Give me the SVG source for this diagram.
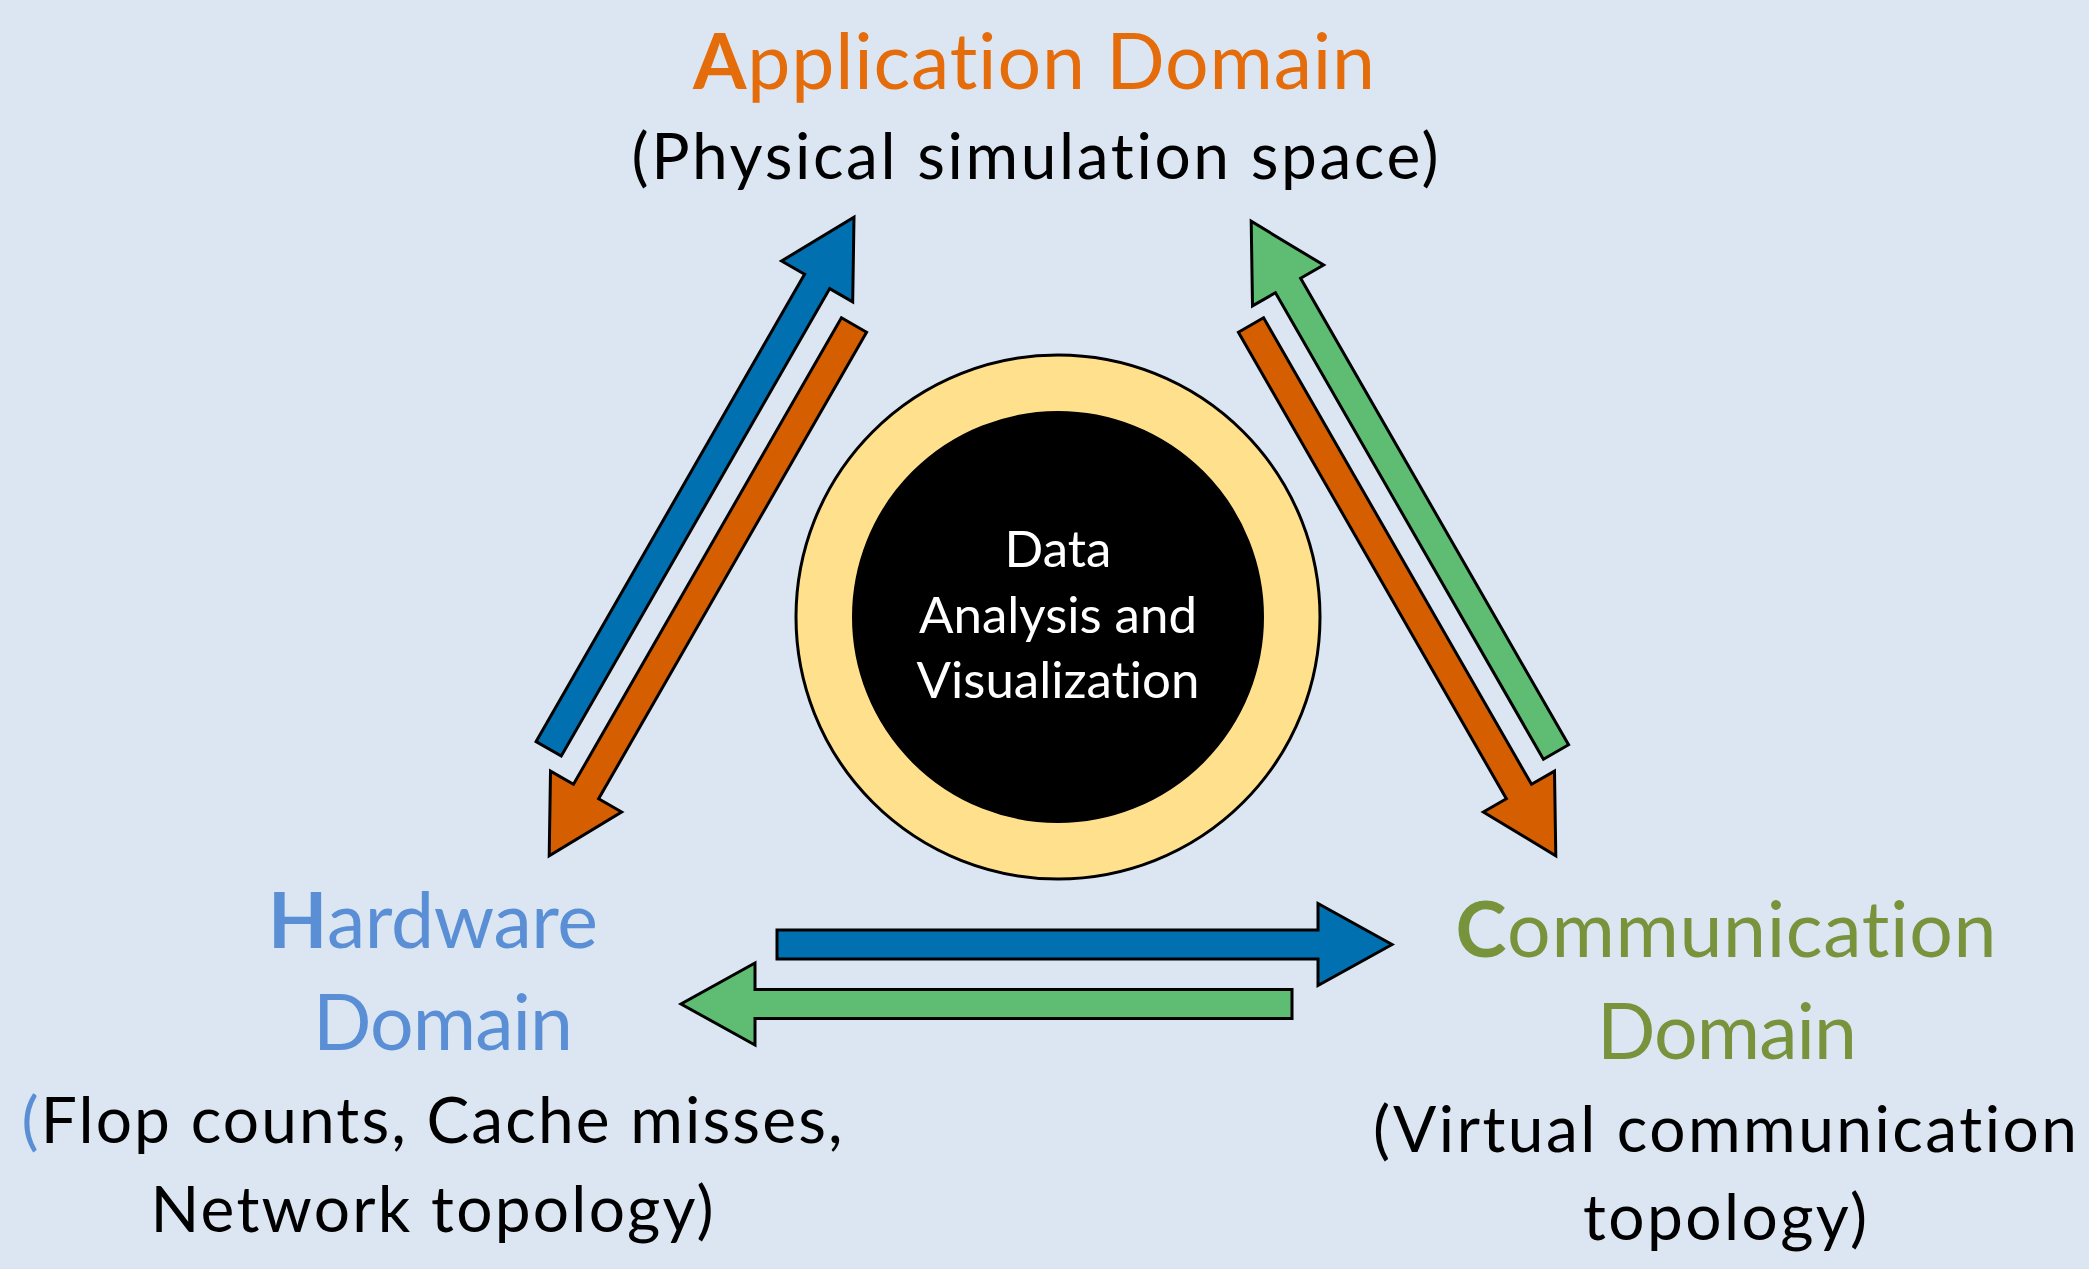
<svg xmlns="http://www.w3.org/2000/svg" width="2089" height="1269" viewBox="0 0 2089 1269">
  <style>
    .arrow { stroke: #000; stroke-width: 3; stroke-linejoin: miter; }
    .blue { fill: #0070B0; }
    .orange { fill: #D55E00; }
    .green { fill: #5EBD72; }
    .lbl { font-family: Lato, "Open Sans", sans-serif; text-anchor: middle; font-variant-ligatures: none; }
    .title { font-size: 77px; }
    .sub { font-size: 64px; fill: #000; }
    .center { font-family: Lato, "Open Sans", sans-serif; text-anchor: middle; font-size: 51px; fill: #fff; font-variant-ligatures: none; }
  </style>
  <rect x="0" y="0" width="2089" height="1269" fill="#DCE6F2"/>

  <g id="connectors">
    <polygon class="arrow blue" transform="translate(548.7,748.8) rotate(-60.13)" points="0,-14.5 539,-14.5 539,-41 613,0 539,41 539,14.5 0,14.5"/>
    <polygon class="arrow orange" transform="translate(854,325) rotate(119.87)" points="0,-14.5 538,-14.5 538,-41 612,0 538,41 538,14.5 0,14.5"/>
    <polygon class="arrow green" transform="translate(1556,752) rotate(-119.87)" points="0,-14.5 538,-14.5 538,-41 612,0 538,41 538,14.5 0,14.5"/>
    <polygon class="arrow orange" transform="translate(1251,325) rotate(60.13)" points="0,-14.5 538,-14.5 538,-41 612,0 538,41 538,14.5 0,14.5"/>
    <polygon class="arrow blue" transform="translate(777,944.5)" points="0,-14.5 541,-14.5 541,-41 615,0 541,41 541,14.5 0,14.5"/>
    <polygon class="arrow green" transform="translate(1292,1004) rotate(180)" points="0,-14.5 537,-14.5 537,-41 611,0 537,41 537,14.5 0,14.5"/>
  </g>

  <g id="center-node">
    <circle cx="1058" cy="617" r="262" fill="#FFE08C" stroke="#000" stroke-width="3"/>
    <circle cx="1058" cy="617" r="205" fill="#000" stroke="#000" stroke-width="2"/>
    <text class="center" x="1058" y="567">Data</text>
    <text class="center" x="1058" y="633">Analysis and</text>
    <text class="center" x="1058" y="698">Visualization</text>
  </g>

  <g id="application-domain">
    <text class="lbl title" x="1034" y="89" fill="#E46C0A" textLength="682"><tspan font-weight="bold">A</tspan>pplication Domain</text>
    <text class="lbl sub" x="1035" y="179" textLength="807">(Physical simulation space)</text>
  </g>

  <g id="hardware-domain">
    <text class="lbl title" x="433" y="948" fill="#5A8FD5" textLength="330"><tspan font-weight="bold">H</tspan>ardware</text>
    <text class="lbl title" x="443" y="1050" fill="#5A8FD5" textLength="260">Domain</text>
    <text class="lbl sub" x="432" y="1143" textLength="821"><tspan fill="#5A8FD5">(</tspan>Flop counts, Cache misses,</text>
    <text class="lbl sub" x="432" y="1232" textLength="563">Network topology)</text>
  </g>

  <g id="communication-domain">
    <text class="lbl title" x="1726" y="957" fill="#77933C" textLength="541"><tspan font-weight="bold">C</tspan>ommunication</text>
    <text class="lbl title" x="1727" y="1059" fill="#77933C" textLength="260">Domain</text>
    <text class="lbl sub" x="1725" y="1152" textLength="704">(Virtual communication</text>
    <text class="lbl sub" x="1725" y="1240" textLength="284">topology)</text>
  </g>
</svg>
